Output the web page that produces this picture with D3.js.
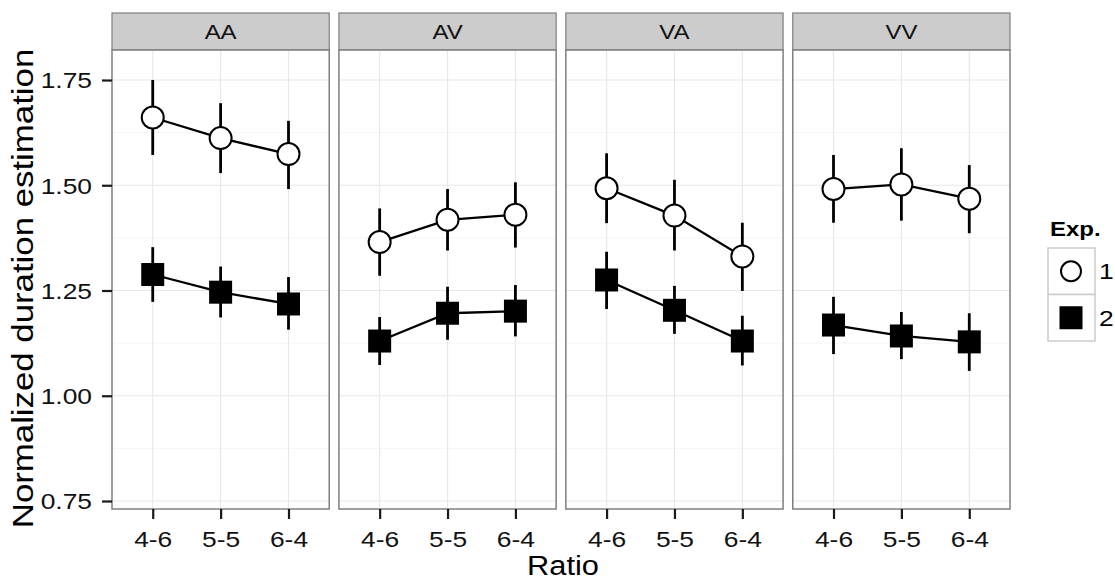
<!DOCTYPE html>
<html>
<head>
<meta charset="utf-8">
<script src="https://cdn.jsdelivr.net/npm/d3@7"></script>
<style>
  html, body { margin: 0; padding: 0; background: #fff; }
  svg { display: block; font-family: "Liberation Sans", Arial, Helvetica, sans-serif; }
</style>
</head>
<body>
<svg id="chart" width="1115" height="581"></svg>
<script>
// ── Data ─────────────────────────────────────────────────────────────────────
const panels = ["AA", "AV", "VA", "VV"];
const ratios = ["4-6", "5-5", "6-4"];
const exps = ["1", "2"];
const yTicks = [0.75, 1.00, 1.25, 1.50, 1.75];

// one row per panel, one value per ratio
const exp1Mean = [[1.661, 1.612, 1.574], [1.365, 1.418, 1.430], [1.493, 1.428, 1.331], [1.491, 1.502, 1.468]];
const exp1Lo   = [[1.572, 1.529, 1.491], [1.285, 1.345, 1.352], [1.410, 1.345, 1.249], [1.411, 1.416, 1.386]];
const exp1Hi   = [[1.750, 1.695, 1.653], [1.445, 1.491, 1.507], [1.576, 1.513, 1.411], [1.572, 1.588, 1.548]];

const exp2Mean = [[1.288, 1.246, 1.218], [1.130, 1.196, 1.201], [1.275, 1.203, 1.130], [1.168, 1.142, 1.128]];
const exp2Lo   = [[1.223, 1.186, 1.157], [1.073, 1.133, 1.141], [1.206, 1.147, 1.072], [1.099, 1.087, 1.059]];
const exp2Hi   = [[1.353, 1.307, 1.282], [1.187, 1.259, 1.263], [1.342, 1.261, 1.190], [1.235, 1.199, 1.196]];

const series = [
  { exp: exps[0], mean: exp1Mean, lo: exp1Lo, hi: exp1Hi },
  { exp: exps[1], mean: exp2Mean, lo: exp2Lo, hi: exp2Hi },
];

// ── Layout ───────────────────────────────────────────────────────────────────
const SX = 1.2;               // horizontal stretch of the reference lettering
const plotLeft = 112, plotRight = 1010;
const stripTop = 13, plotTop = 50, plotBottom = 509;

const svg = d3.select("#chart");

const fx = d3.scaleBand().domain(panels).range([plotLeft, plotRight]).paddingInner(0.0427);
const y = d3.scaleLinear().domain([0.731, 1.8213]).range([plotBottom, plotTop]);
const minorTicks = d3.range(yTicks.length - 1).map(i => (yTicks[i] + yTicks[i + 1]) / 2);

const symbolCircle = d3.symbol().type(d3.symbolCircle).size(Math.PI * 11 * 11);

panels.forEach((p, pi) => {
  const x0 = fx(p), w = fx.bandwidth();
  const x = d3.scalePoint().domain(ratios).range([0, w]).padding(0.6);
  const g = svg.append("g").attr("transform", `translate(${x0},0)`);

  // strip
  g.append("rect")
    .attr("x", 0).attr("y", stripTop).attr("width", w).attr("height", plotTop - stripTop)
    .attr("fill", "#cccccc").attr("stroke", "#7f7f7f").attr("stroke-width", 1.2);
  g.append("text")
    .attr("transform", `translate(${w / 2},${(stripTop + plotTop) / 2 + 7.2}) scale(${SX},1)`)
    .attr("text-anchor", "middle").attr("font-size", 20).attr("fill", "#111")
    .text(p);

  // panel background + grid
  g.append("rect").attr("x", 0).attr("y", plotTop).attr("width", w).attr("height", plotBottom - plotTop)
    .attr("fill", "#fff");
  g.selectAll("line.minor").data(minorTicks).join("line")
    .attr("x1", 0).attr("x2", w).attr("y1", d => y(d)).attr("y2", d => y(d))
    .attr("stroke", "#f5f5f5").attr("stroke-width", 1);
  g.selectAll("line.hmajor").data(yTicks).join("line")
    .attr("x1", 0).attr("x2", w).attr("y1", d => y(d)).attr("y2", d => y(d))
    .attr("stroke", "#e8e8e8").attr("stroke-width", 1.2);
  g.selectAll("line.vmajor").data(ratios).join("line")
    .attr("x1", d => x(d)).attr("x2", d => x(d)).attr("y1", plotTop).attr("y2", plotBottom)
    .attr("stroke", "#e8e8e8").attr("stroke-width", 1.2);

  // data
  series.forEach(s => {
    const rows = ratios.map((r, i) => ({ r, m: s.mean[pi][i], lo: s.lo[pi][i], hi: s.hi[pi][i] }));
    g.append("path")
      .datum(rows)
      .attr("d", d3.line().x(d => x(d.r)).y(d => y(d.m)))
      .attr("fill", "none").attr("stroke", "#000").attr("stroke-width", 2.3);
    g.selectAll(null).data(rows).join("line")
      .attr("x1", d => x(d.r)).attr("x2", d => x(d.r))
      .attr("y1", d => y(d.lo)).attr("y2", d => y(d.hi))
      .attr("stroke", "#000").attr("stroke-width", 2.8);
    if (s.exp === "1") {
      g.selectAll(null).data(rows).join("path")
        .attr("transform", d => `translate(${x(d.r)},${y(d.m)})`)
        .attr("d", symbolCircle)
        .attr("fill", "#fff").attr("stroke", "#000").attr("stroke-width", 2);
    } else {
      g.selectAll(null).data(rows).join("rect")
        .attr("x", d => x(d.r) - 11.5).attr("y", d => y(d.m) - 11.5)
        .attr("width", 23).attr("height", 23).attr("fill", "#000");
    }
  });

  // panel border
  g.append("rect").attr("x", 0).attr("y", plotTop).attr("width", w).attr("height", plotBottom - plotTop)
    .attr("fill", "none").attr("stroke", "#7f7f7f").attr("stroke-width", 1.5);

  // x axis
  const xa = g.append("g").attr("transform", `translate(0,${plotBottom})`)
    .call(d3.axisBottom(x).tickSize(10).tickSizeOuter(0));
  xa.select(".domain").remove();
  xa.selectAll(".tick line").attr("stroke", "#1a1a1a").attr("stroke-width", 2.2);
  xa.selectAll(".tick text")
    .attr("y", 38).attr("dy", null)
    .attr("transform", `scale(${SX},1)`)
    .attr("font-size", 22).attr("font-family", null).attr("fill", "#111");
});

// y axis (left of first panel)
const ya = svg.append("g").attr("transform", `translate(${plotLeft},0)`)
  .call(d3.axisLeft(y).tickValues(yTicks).tickFormat(d3.format(".2f")).tickSize(10).tickSizeOuter(0));
ya.select(".domain").remove();
ya.selectAll(".tick line").attr("stroke", "#1a1a1a").attr("stroke-width", 2.2);
ya.selectAll(".tick text")
  .attr("x", -20 / SX).attr("dy", "0.36em")
  .attr("transform", `scale(${SX},1)`)
  .attr("font-size", 22).attr("font-family", null).attr("fill", "#111");

// axis titles
svg.append("text")
  .attr("transform", `translate(${(plotLeft + plotRight) / 2 + 2},575) scale(1.1,1)`)
  .attr("text-anchor", "middle").attr("font-size", 28).attr("fill", "#000")
  .text("Ratio");
svg.append("text")
  .attr("transform", `translate(33,${(plotTop + plotBottom) / 2 + 9}) rotate(-90) scale(${SX},1)`)
  .attr("text-anchor", "middle").attr("font-size", 29).attr("fill", "#000")
  .text("Normalized duration estimation");

// ── Legend ───────────────────────────────────────────────────────────────────
const lg = svg.append("g").attr("transform", "translate(1048,0)");
lg.append("text")
  .attr("transform", `translate(2,236) scale(${SX},1)`)
  .attr("font-size", 20).attr("font-weight", "bold").attr("fill", "#000")
  .text("Exp.");
const keyY = d3.scaleBand().domain(exps).range([248, 341]);
exps.forEach(e => {
  const ky = keyY(e), ks = keyY.bandwidth();
  lg.append("rect").attr("x", 0).attr("y", ky).attr("width", 47).attr("height", ks)
    .attr("fill", "#fff").attr("stroke", "#cccccc").attr("stroke-width", 1.5);
  if (e === "1") {
    lg.append("path").attr("transform", `translate(23,${ky + ks / 2})`)
      .attr("d", d3.symbol().type(d3.symbolCircle).size(Math.PI * 10 * 10))
      .attr("fill", "#fff").attr("stroke", "#000").attr("stroke-width", 2);
  } else {
    lg.append("rect").attr("x", 23 - 11.5).attr("y", ky + ks / 2 - 11.5)
      .attr("width", 23).attr("height", 23).attr("fill", "#000");
  }
  lg.append("text")
    .attr("transform", `translate(51,${ky + ks / 2 + 8}) scale(${SX},1)`)
    .attr("font-size", 22).attr("fill", "#000")
    .text(e);
});
</script>
</body>
</html>
